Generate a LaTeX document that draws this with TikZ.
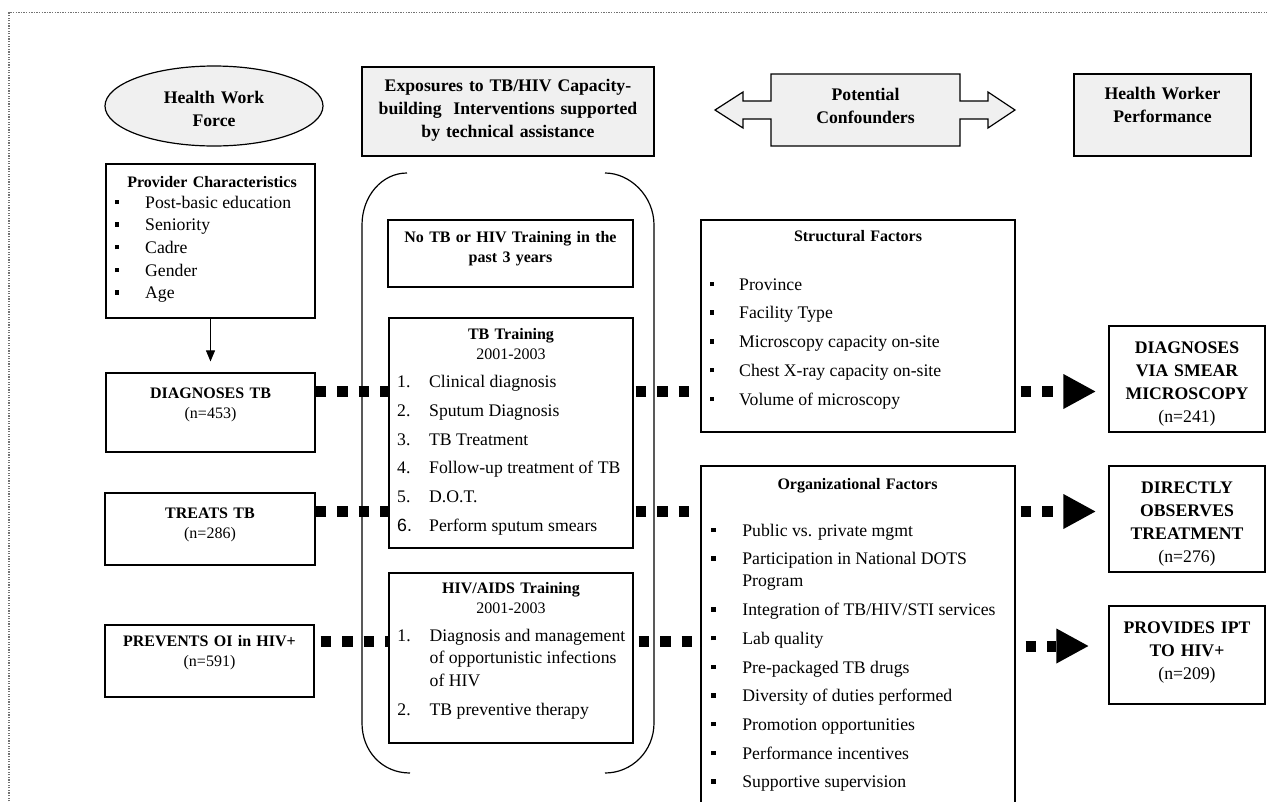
\documentclass[tikz,border=0pt]{standalone}
\usepackage{fontspec}
\setmainfont{Liberation Serif}
\newfontfamily\sixfont{Liberation Sans}
\usetikzlibrary{arrows.meta,matrix,shapes.geometric}
\newcommand\bigsz{\fontsize{17.7pt}{23pt}\selectfont}
\newcommand\smlsz{\fontsize{16pt}{20.5pt}\selectfont}
\newcommand\bul{\rule[4pt]{4.5pt}{4.5pt}}
\begin{document}
\begin{tikzpicture}[x=1pt,y=-1pt,
  panel/.style={draw,line width=1.2pt,inner sep=0pt},
  grey/.style={fill=black!6},
  hd/.style={font=\bfseries\bigsz,text width=300pt,align=center,anchor=base,inner sep=0pt},
  bsh/.style={font=\bfseries\smlsz,text width=240pt,align=center,anchor=base,inner sep=0pt},
  itemlist/.style={matrix of nodes,inner sep=0pt,anchor=north west,column sep=#1,row sep=11.7pt,
    nodes={inner sep=0pt,anchor=base west,text height=13pt,text depth=4pt,font=\bigsz}},
  sqdash/.style={line width=11pt,dash pattern=on 10.5pt off 11pt},
  bighead/.style={-{Triangle[length=32pt,width=35pt,line width=0pt]}}]
\clip (0,0) rectangle (1267,801);
\draw[black!55,line width=1.3pt,dash pattern=on 1.3pt off 1.3pt] (9,830) -- (9,12.5) -- (1290,12.5);

\node[panel,grey,ellipse,minimum width=218pt,minimum height=80pt] (hwf) at (214,106) {};
\node[hd] (hwft) at (214,103) {Health Work\\Force};
\node[panel,grey,minimum width=292pt,minimum height=89pt] (exp) at (508,111.5) {};
\node[hd] (expt) at (508,91.5) {Exposures to TB/HIV Capacity-\\building\ \ Interventions supported\\by technical assistance};
\draw[line width=1.2pt,fill=black!6] (715,110) -- (743,92) -- (743,101) -- (771,101) -- (771,74) -- (960,74)
  -- (960,101) -- (988,101) -- (988,92) -- (1015,110) -- (988,128) -- (988,119) -- (960,119) -- (960,146)
  -- (771,146) -- (771,119) -- (743,119) -- (743,128) -- cycle;
\node[hd] (pct) at (865.5,100) {Potential\\Confounders};
\node[panel,grey,minimum width=177pt,minimum height=82pt] (hwp) at (1162.5,115) {};
\node[hd] (hwpt) at (1162.5,99) {Health Worker\\Performance};

\node[panel,minimum width=209pt,minimum height=154pt] (prov) at (210.5,241) {};
\node[bsh] (provt) at (212,187) {Provider Characteristics};
\matrix (provl) [itemlist=25.75pt,row sep=5.6pt] at (114.75,195) {
\bul & Post-basic education\\
\bul & Seniority\\
\bul & Cadre\\
\bul & Gender\\
\bul & Age\\
};
\node[panel,minimum width=209pt,minimum height=79pt] (dxtb) at (210.5,412.5) {};
\node[bsh] (dxtbt) at (210.5,398) {DIAGNOSES TB\\\mdseries(n=453)};
\node[panel,minimum width=210pt,minimum height=72pt] (trtb) at (210,529) {};
\node[bsh] (trtbt) at (210,518) {TREATS TB\\\mdseries(n=286)};
\node[panel,minimum width=209pt,minimum height=72pt] (pvoi) at (209.5,661) {};
\node[bsh] (pvoit) at (209.5,646) {PREVENTS OI in HIV+\\\mdseries(n=591)};
\draw[line width=1pt,-{Triangle[length=11pt,width=9pt]},shorten >=11pt] (prov) -- (dxtb);

\draw[line width=1.2pt] (407,173) .. controls (382,173) and (362,196) .. (362,225) -- (362,723)
  .. controls (362,751) and (382,773) .. (410,773);
\draw[line width=1.2pt] (605,173) .. controls (630,173) and (654,196) .. (654,225) -- (654,723)
  .. controls (654,751) and (632,773) .. (605,773);

\node[panel,minimum width=245pt,minimum height=67pt] (notr) at (510.5,253.5) {};
\node[bsh] (notrt) at (510.5,242) {No TB or HIV Training in the\\past 3 years};
\node[panel,minimum width=244pt,minimum height=230pt] (tbt) at (511,433) {};
\node[bsh] (tbtt) at (511,339) {TB Training\\\mdseries 2001-2003};
\matrix (tbtl) [itemlist=17.2pt] at (397,374.5) {
1. & Clinical diagnosis\\
2. & Sputum Diagnosis\\
3. & TB Treatment\\
4. & Follow-up treatment of TB\\
5. & D.O.T.\\
{\sixfont 6.} & Perform sputum smears\\
};
\node[panel,minimum width=244pt,minimum height=170pt] (hiv) at (511,658) {};
\node[bsh] (hivt) at (511,593) {HIV/AIDS Training\\\mdseries 2001-2003};
\matrix (hivl) [itemlist=19pt] at (397,628) {
1. & Diagnosis and management\\[-6pt]
 & of opportunistic infections\\[-6pt]
 & of HIV\\
2. & TB preventive therapy\\
};

\node[panel,minimum width=314pt,minimum height=212pt] (sf) at (858,326) {};
\node[bsh] (sft) at (858,241) {Structural Factors};
\matrix (sfl) [itemlist=24.75pt] at (709.75,277) {
\bul & Province\\
\bul & Facility Type\\
\bul & Microscopy capacity on-site\\
\bul & Chest X-ray capacity on-site\\
\bul & Volume of microscopy\\
};
\node[panel,minimum width=314pt,minimum height=364pt] (org) at (858,648) {};
\node[bsh] (orgt) at (857.5,489) {Organizational Factors};
\matrix (orgl) [itemlist=26.75pt] at (710.75,523) {
\bul & Public vs. private mgmt\\
\bul & Participation in National DOTS\\[-6.7pt]
 & Program\\
\bul & Integration of TB/HIV/STI services\\
\bul & Lab quality\\
\bul & Pre-packaged TB drugs\\
\bul & Diversity of duties performed\\
\bul & Promotion opportunities\\
\bul & Performance incentives\\
\bul & Supportive supervision\\
};

\node[panel,minimum width=156pt,minimum height=106pt] (dvsm) at (1187,379) {};
\node[hd] (dvsmt) at (1187,353) {DIAGNOSES\\VIA SMEAR\\MICROSCOPY\\\mdseries(n=241)};
\node[panel,minimum width=156pt,minimum height=106pt] (dot) at (1187,519) {};
\node[hd] (dott) at (1187,493) {DIRECTLY\\OBSERVES\\TREATMENT\\\mdseries(n=276)};
\node[panel,minimum width=156pt,minimum height=98pt] (ipt) at (1187,655) {};
\node[hd] (iptt) at (1187,633) {PROVIDES IPT\\TO HIV+\\\mdseries(n=209)};

\coordinate (r1) at (0,391.5);
\coordinate (r2) at (0,511.5);
\coordinate (r3) at (0,641);
\coordinate (r3b) at (0,646);
\draw[sqdash] (dxtb.east |- r1) -- (tbt.west |- r1);
\draw[sqdash,dash phase=19.5] (tbt.east |- r1) -- (sf.west |- r1);
\draw[sqdash,dash phase=16.5,bighead,shorten >=13pt] (sf.east |- r1) -- (dvsm.west |- r1);
\draw[sqdash] (trtb.east |- r2) -- (tbt.west |- r2);
\draw[sqdash,dash phase=19.5] (tbt.east |- r2) -- (org.west |- r2);
\draw[sqdash,dash phase=16.5,bighead,shorten >=13pt] (org.east |- r2) -- (dot.west |- r2);
\draw[sqdash,dash phase=15.5] (pvoi.east |- r3) -- (hiv.west |- r3);
\draw[sqdash,dash phase=16.5] (hiv.east |- r3) -- (org.west |- r3);
\draw[sqdash,dash phase=11.5,bighead,shorten >=20pt] (org.east |- r3b) -- (ipt.west |- r3b);
\end{tikzpicture}
\end{document}
